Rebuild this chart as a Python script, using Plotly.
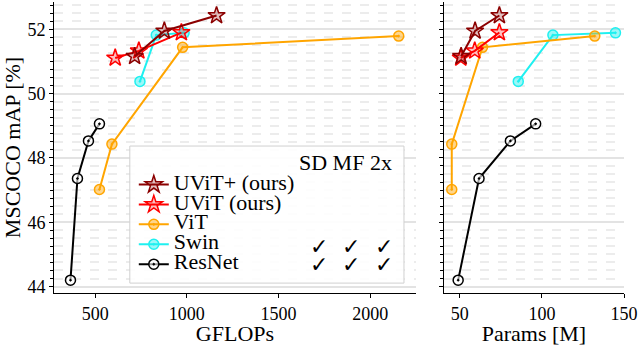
import plotly.graph_objects as go
from plotly.subplots import make_subplots

# data
uvitp_gflops = [715, 877, 1162]
uvitp_params = [50.8, 59.3, 74.1]
uvitp_map = [51.16, 51.95, 52.43]

uvit_gflops = [609, 738, 970]
uvit_params = [50.6, 59.1, 74.1]
uvit_map = [51.11, 51.33, 51.90]

vit_gflops = [523, 591, 977, 2156]
vit_params = [45.1, 45.1, 63.8, 132.2]
vit_map = [47.02, 48.43, 51.44, 51.79]

swin_gflops = [744, 833, 985]
swin_params = [85.6, 106.7, 144.8]
swin_map = [50.38, 51.82, 51.89]

resnet_gflops = [365, 403, 463, 523]
resnet_params = [49.0, 61.7, 80.8, 96.2]
resnet_map = [44.20, 47.36, 48.53, 49.06]

FONT = "Liberation Serif, Times New Roman, serif"

series = [
    # name, gflops, params, map, color, fill, symbol, size, rank
    ("ResNet", resnet_gflops, resnet_params, resnet_map, "black", "rgba(255,255,255,0.6)", "circle-dot", 10, 5),
    ("Swin", swin_gflops, swin_params, swin_map, "#1ff0f0", "rgba(31,240,240,0.45)", "circle-dot", 10, 4),
    ("ViT", vit_gflops, vit_params, vit_map, "orange", "rgba(255,165,0,0.45)", "circle-dot", 10, 3),
    ("UViT (ours)", uvit_gflops, uvit_params, uvit_map, "red", "rgba(255,0,0,0.25)", "star", 13, 2),
    ("UViT+ (ours)", uvitp_gflops, uvitp_params, uvitp_map, "#8b0000", "rgba(139,0,0,0.25)", "star", 13, 1),
]

fig = make_subplots(rows=1, cols=2, shared_yaxes=True, column_widths=[0.67, 0.33])

for name, gf, pm, mp, col, fill, sym, sz, rank in series:
    mk = dict(symbol=sym, size=sz, color=fill, line=dict(color=col, width=1.5))
    fig.add_trace(go.Scatter(x=gf, y=mp, mode="lines+markers", name='<span style="font-size:22px">' + name + "</span>",
                             line=dict(color=col, width=2), marker=mk, legendrank=rank), row=1, col=1)
    fig.add_trace(go.Scatter(x=pm, y=mp, mode="lines+markers", showlegend=False,
                             line=dict(color=col, width=2), marker=mk), row=1, col=2)

# legend frame + extra text
fig.add_shape(type="rect", xref="paper", yref="paper", x0=0.133, x1=0.614, y0=0.034, y1=0.505,
              line=dict(color="#d0d0d0", width=1), fillcolor="rgba(255,255,255,0.9)", layer="above")
fig.add_annotation(text="SD MF 2x", xref="paper", yref="paper", x=0.597, y=0.447, xanchor="right",
                   yanchor="middle", showarrow=False, font=dict(size=22, color="black", family=FONT))
check = '<span style="font-size:22px">✓</span>'
for cx in [0.465, 0.521, 0.579]:
    fig.add_annotation(text=check + "<br>" + check, xref="paper", yref="paper", x=cx, y=0.128,
                       yanchor="middle", showarrow=False,
                       font=dict(size=14, color="black", family="DejaVu Sans"))

ax = dict(showline=True, linecolor="black", linewidth=1, ticks="outside", ticklen=4,
          tickcolor="black", showgrid=False, zeroline=False, mirror=False, automargin=False,
          tickfont=dict(size=18, family=FONT, color="black"))
fig.update_xaxes(**ax)
fig.update_yaxes(**ax)
fig.update_yaxes(range=[43.8, 52.85], dtick=2, showgrid=True, gridcolor="#e3e3e3", gridwidth=1.5,
                 minor=dict(dtick=0.25, ticks="outside", ticklen=3, tickcolor="black",
                            showgrid=True, gridcolor="#ececec", griddash="dash"))
fig.update_xaxes(range=[275, 2250], tickvals=[500, 1000, 1500, 2000], row=1, col=1,
                 title=dict(text="GFLOPs", font=dict(size=22, family=FONT, color="black"), standoff=2))
fig.update_xaxes(range=[40.3, 150], tickvals=[50, 100, 150], row=1, col=2,
                 title=dict(text="Params [M]", font=dict(size=22, family=FONT, color="black"), standoff=2))
fig.update_yaxes(title=dict(text="MSCOCO mAP [%]", font=dict(size=22, family=FONT, color="black"), standoff=4),
                 row=1, col=1)
fig.update_layout(xaxis=dict(domain=[0, 0.635]), xaxis2=dict(domain=[0.684, 1.0]))

fig.update_layout(
    width=640, height=346,
    margin=dict(l=54, r=16, t=2, b=53),
    plot_bgcolor="white", paper_bgcolor="white",
    font=dict(family=FONT, color="black"),
    showlegend=True,
    legend=dict(x=0.14, y=0.424, xanchor="left", yanchor="top", bgcolor="rgba(0,0,0,0)",
                borderwidth=0, font=dict(size=13, family=FONT, color="black"), tracegroupgap=0),
)

# the default page has an 8px body margin; drop it so the figure sits at the window origin
fig.write_html("out.html", config={"displayModeBar": False},
               post_script="document.body.style.margin='0';")
